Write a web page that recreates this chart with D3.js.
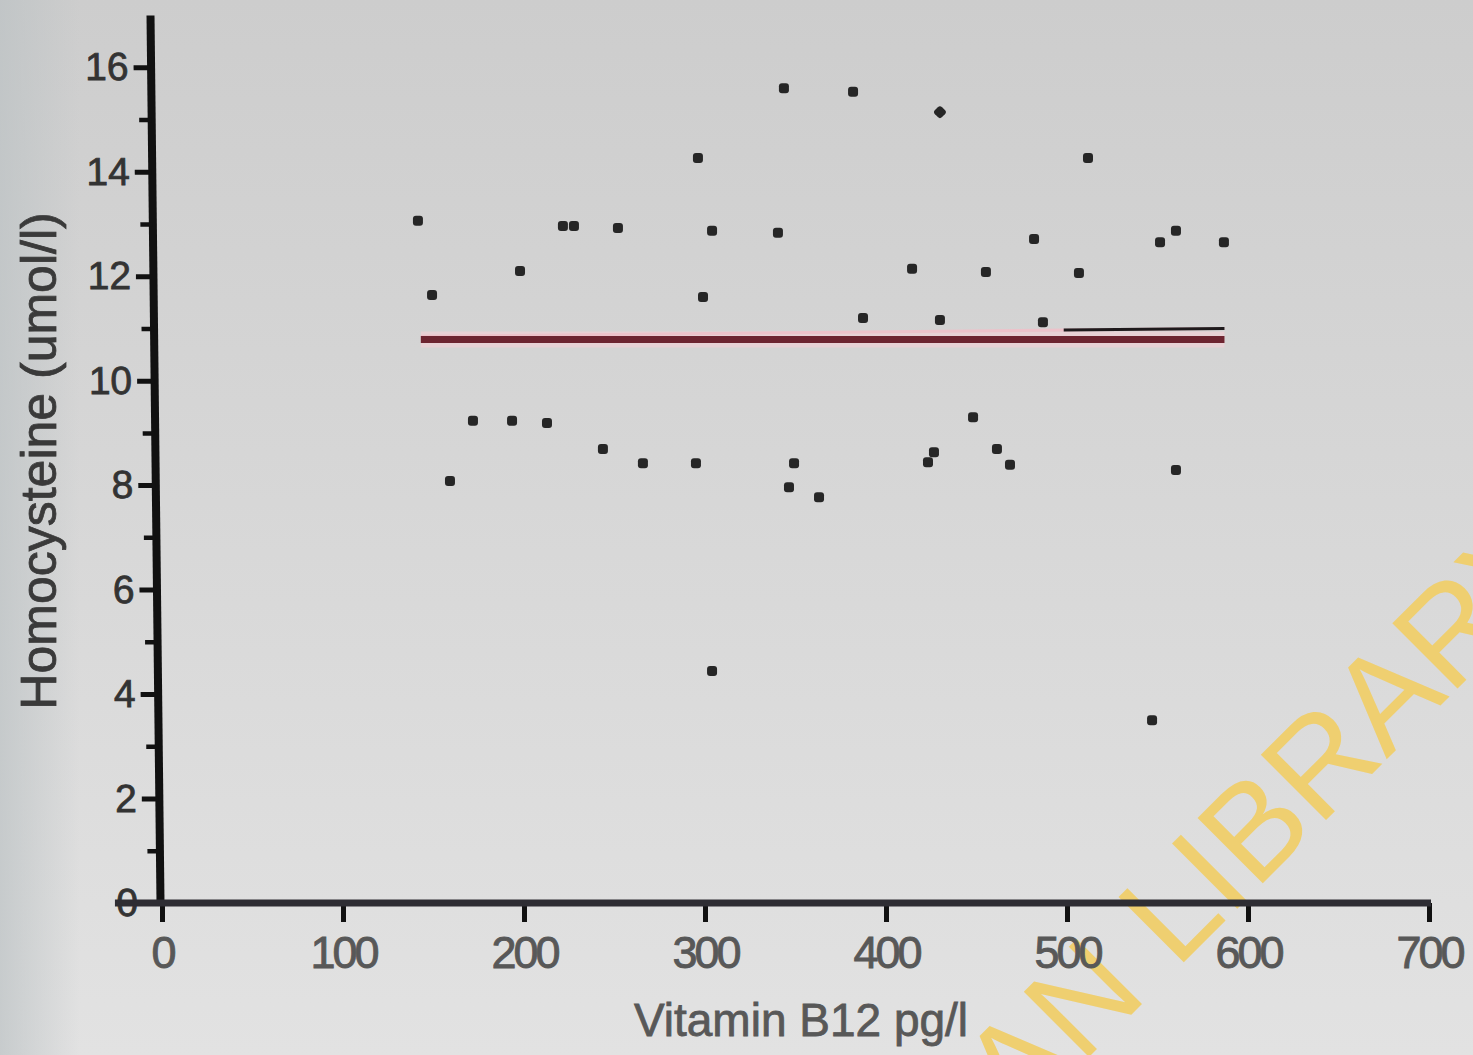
<!DOCTYPE html>
<html><head><meta charset="utf-8">
<script src="https://cdn.jsdelivr.net/npm/d3@7"></script>
<style>body{margin:0;overflow:hidden;background:#d8d8d8}</style>
</head><body><svg id="c" width="1473" height="1055"></svg>
<script>
// ---- data ----
const vitaminB12 = [141.4,149.2,159.1,171.8,193.4,197.8,212.7,221.5,227.6,243.6,251.9,265.7,295.0,296.1,298.9,303.9,303.9,340.3,343.6,346.4,349.2,363.0,381.8,387.3,414.4,423.2,426.5,429.8,429.8,448.1,455.2,461.3,468.5,481.8,486.7,506.6,511.6,547.0,551.4,560.2,560.2,586.7];
const homocysteine = [13.06,11.64,8.08,9.23,9.23,12.10,9.19,12.96,12.96,8.69,12.92,8.42,8.42,14.26,11.60,12.87,4.44,12.83,15.60,7.96,8.42,7.77,15.53,11.20,12.14,8.44,8.63,15.14,11.16,9.30,12.08,8.69,8.39,12.71,11.12,12.06,14.26,3.50,12.65,12.87,8.29,12.65];
const diamondIndex = [27];
const fitX = [143, 587];
const fitY = [10.79, 10.79];
const fitX2 = [143, 587];
const fitY2 = [10.85, 11.0];
const xTicks = [0,100,200,300,400,500,600,700];
const yTicks = [0,2,4,6,8,10,12,14,16];
const yMinorTicks = [1,3,5,7,9,11,13,15];
const xLabel = "Vitamin B12 pg/l";
const yLabel = "Homocysteine (umol/l)";
const watermark = "AN LIBRARY";

const svg = d3.select('#c');
const W = 1473, H = 1055;
const font = "'Liberation Sans', Arial, sans-serif";

// background
const defs = svg.append('defs');
const g1 = defs.append('linearGradient').attr('id','bgv').attr('x1',0).attr('y1',0).attr('x2',0).attr('y2',1);
g1.append('stop').attr('offset','0%').attr('stop-color','#cdcdcd');
g1.append('stop').attr('offset','100%').attr('stop-color','#e2e2e2');
const g2 = defs.append('linearGradient').attr('id','bgh').attr('x1',0).attr('y1',0).attr('x2',1).attr('y2',0);
g2.append('stop').attr('offset','0%').attr('stop-color','#bcc2c4').attr('stop-opacity',0.7);
g2.append('stop').attr('offset','100%').attr('stop-color','#bcc2c4').attr('stop-opacity',0);
svg.append('rect').attr('width',W).attr('height',H).attr('fill','url(#bgv)');
svg.append('rect').attr('width',80).attr('height',H).attr('fill','url(#bgh)');

// scales
const x = d3.scaleLinear().domain([0,700]).range([162,1429]);
const y = d3.scaleLinear().domain([0,17]).range([903,15]);

// watermark (under the chart)
const wm = svg.append('text').text(watermark)
  .attr('font-family', font).attr('font-size',134).attr('fill','#efcf70');
const off = wm.node().getSubStringLength(0,3);
wm.attr('transform', `translate(1183,963) rotate(-45) translate(${-(off+10)},0)`);

// y axis (slightly tilted like the photographed original)
const t = 10/888;
const yAxisTf = `matrix(1,0,${t},1,${160 - 903*t},0)`;
const yAxisG = svg.append('g').attr('transform', yAxisTf);
yAxisG.call(d3.axisLeft(y).tickValues(yTicks).tickSize(17).tickSizeOuter(0).tickPadding(5).tickFormat(d3.format('d')));
yAxisG.select('.domain').attr('stroke','#111').attr('stroke-width',8);
yAxisG.selectAll('.tick line').attr('stroke','#111').attr('stroke-width',5);
yAxisG.selectAll('.tick text').attr('font-family',font).attr('font-size',39)
  .attr('fill','#333').attr('stroke','#333').attr('stroke-width',0.8);
const yMinorG = svg.append('g').attr('transform', yAxisTf);
yMinorG.call(d3.axisLeft(y).tickValues(yMinorTicks).tickSize(12).tickSizeOuter(0).tickFormat(''));
yMinorG.select('.domain').remove();
yMinorG.selectAll('.tick line').attr('stroke','#111').attr('stroke-width',4.5);

// x axis
const xAxisG = svg.append('g').attr('transform','translate(0,903)');
xAxisG.call(d3.axisBottom(x).tickValues(xTicks).tickSize(19).tickSizeOuter(0).tickFormat(d3.format('d')));
xAxisG.select('.domain').remove();
xAxisG.selectAll('.tick line').attr('stroke','#111').attr('stroke-width',5);
xAxisG.selectAll('.tick text').attr('y',65).attr('dy',0)
  .attr('font-family',font).attr('font-size',45).attr('letter-spacing',-3)
  .attr('fill','#585858').attr('stroke','#585858').attr('stroke-width',0.9);
svg.append('line').attr('x1',x(-26)).attr('x2',x(700)+2).attr('y1',y(0)).attr('y2',y(0))
  .attr('stroke','#2e2d33').attr('stroke-width',7);

// axis titles
svg.append('text').text(xLabel).attr('x',801).attr('y',1036).attr('text-anchor','middle')
  .attr('font-family',font).attr('font-size',46).attr('fill','#585858')
  .attr('stroke','#585858').attr('stroke-width',0.8);
svg.append('text').text(yLabel).attr('transform','translate(56,461) rotate(-90)').attr('text-anchor','middle')
  .attr('font-family',font).attr('font-size',50).attr('fill','#3a3a3a')
  .attr('stroke','#3a3a3a').attr('stroke-width',0.8);

// fit lines
const line = d3.line().x(d=>x(d[0])).y(d=>y(d[1]));
const fit = fitX.map((v,i)=>[v,fitY[i]]);
const fit2 = fitX2.map((v,i)=>[v,fitY2[i]]);
svg.append('path').attr('d',line(fit)).attr('stroke','#f1d0d6').attr('stroke-width',16).attr('fill','none').attr('opacity',0.7);
svg.append('path').attr('d',line(fit2)).attr('stroke','#edc2ca').attr('stroke-width',3).attr('fill','none');
const len = x(fitX2[1]) - x(fitX2[0]);
svg.append('path').attr('d',line(fit2)).attr('stroke','#1e1a1c').attr('stroke-width',3).attr('fill','none')
  .attr('stroke-dasharray', `0 ${len*0.8} ${len*0.2}`);
svg.append('path').attr('d',line(fit)).attr('stroke','#6d2430').attr('stroke-width',7).attr('fill','none');

// points
const pts = vitaminB12.map((v,i)=>({x:v,y:homocysteine[i],i}));
svg.append('g').selectAll('rect').data(pts).join('rect')
  .attr('x',d=>x(d.x)-5).attr('y',d=>y(d.y)-5).attr('width',10).attr('height',10)
  .attr('rx',3).attr('fill','#262626')
  .attr('transform',d=>diamondIndex.includes(d.i)?`rotate(45,${x(d.x)},${y(d.y)})`:null);
</script></body></html>
